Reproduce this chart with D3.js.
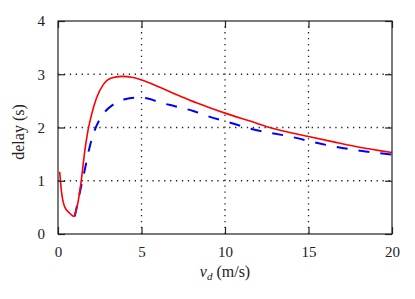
<!DOCTYPE html>
<html>
<head>
<meta charset="utf-8">
<script src="https://cdn.jsdelivr.net/npm/d3@7"></script>
<style>
  html, body { margin: 0; padding: 0; background: #fff; }
  svg { display: block; }
  text { font-family: "Liberation Serif", "DejaVu Serif", serif; fill: #222; }
</style>
</head>
<body>
<svg id="chart" width="415" height="299"></svg>
<script>
// speed (m/s) and delay (s)
const redSpeed = [0.1, 0.2, 0.4, 0.7, 0.95, 1.05, 1.2, 1.4, 1.6, 1.8, 2.0, 2.3, 2.7, 3.2, 3.8, 4.5, 5.3, 6.2, 7.0, 7.9, 9.0, 10, 11.5, 12.9, 15, 16.5, 17.9, 20];
const redDelay = [1.17, 0.82, 0.51, 0.39, 0.33, 0.40, 0.60, 1.02, 1.55, 1.95, 2.23, 2.55, 2.80, 2.93, 2.96, 2.94, 2.86, 2.74, 2.63, 2.51, 2.38, 2.27, 2.12, 1.98, 1.83, 1.73, 1.64, 1.53];

const blueSpeed = [1.0, 1.3, 1.6, 1.9, 2.2, 2.7, 3.3, 4.0, 4.8, 5.3, 6.1, 7.0, 8.1, 9.1, 10.1, 11.5, 13.9, 16.1, 18.9, 20];
const blueDelay = [0.33, 0.77, 1.20, 1.64, 1.95, 2.25, 2.43, 2.53, 2.56, 2.55, 2.47, 2.40, 2.31, 2.20, 2.11, 1.98, 1.83, 1.67, 1.53, 1.49];

const xTicks = [0, 5, 10, 15, 20];
const yTicks = [0, 1, 2, 3, 4];

const margin = { left: 58, right: 23, top: 21, bottom: 65 };
const width = 415, height = 299;

const svg = d3.select('#chart');

const x = d3.scaleLinear()
    .domain([0, 20])
    .range([margin.left, width - margin.right]);

const y = d3.scaleLinear()
    .domain([0, 4])
    .range([height - margin.bottom, margin.top]);

const plot = svg.append('g');

// dotted grid
plot.selectAll('.gx')
    .data(xTicks.slice(1, -1))
    .join('line')
    .attr('x1', d => x(d)).attr('x2', d => x(d))
    .attr('y1', y(0)).attr('y2', y(4))
    .style('stroke', '#222')
    .style('stroke-width', 1.3)
    .style('stroke-dasharray', '1.3,4.6')

plot.selectAll('.gy')
    .data(yTicks.slice(1, -1))
    .join('line')
    .attr('x1', x(0)).attr('x2', x(20))
    .attr('y1', d => y(d)).attr('y2', d => y(d))
    .style('stroke', '#222')
    .style('stroke-width', 1.3)
    .style('stroke-dasharray', '1.3,4.6')

// curves
const line = d3.line()
    .x(d => x(d[0]))
    .y(d => y(d[1]))
    .curve(d3.curveMonotoneX);

plot.append('path')
    .attr('d', line(d3.zip(blueSpeed, blueDelay)))
    .style('fill', 'none')
    .style('stroke', '#0000ff')
    .style('stroke-width', 2)
    .style('stroke-dasharray', '11,11')

plot.append('path')
    .attr('d', line(d3.zip(redSpeed, redDelay)))
    .style('fill', 'none')
    .style('stroke', '#ff0000')
    .style('stroke-width', 1.6)

// frame with inward ticks on all sides
const tickLen = 7;
const fmt = d3.format('d');
const axisStyle = g => g.call(a => a.select('.domain').remove())
    .call(a => a.selectAll('.tick line').style('stroke', '#222').style('stroke-width', 1.2));

svg.append('g')
    .attr('transform', `translate(0,${y(0)})`)
    .call(d3.axisBottom(x).tickValues(xTicks).tickFormat(fmt).tickSizeInner(-tickLen).tickSizeOuter(0).tickPadding(tickLen + 5))
    .call(axisStyle)
    .selectAll('text')
    .style('font-size', '15px')
    .style('font-family', '"Liberation Serif", serif')
    .style('fill', '#222')

svg.append('g')
    .attr('transform', `translate(0,${y(4)})`)
    .call(d3.axisTop(x).tickValues(xTicks).tickSizeInner(-tickLen).tickSizeOuter(0).tickFormat(''))
    .call(axisStyle)

svg.append('g')
    .attr('transform', `translate(${x(0)},0)`)
    .call(d3.axisLeft(y).tickValues(yTicks).tickFormat(fmt).tickSizeInner(-tickLen).tickSizeOuter(0).tickPadding(tickLen + 6))
    .call(axisStyle)
    .selectAll('text')
    .style('font-size', '15px')
    .style('font-family', '"Liberation Serif", serif')
    .style('fill', '#222')

svg.append('g')
    .attr('transform', `translate(${x(20)},0)`)
    .call(d3.axisRight(y).tickValues(yTicks).tickSizeInner(-tickLen).tickSizeOuter(0).tickFormat(''))
    .call(axisStyle)

svg.append('rect')
    .attr('x', x(0))
    .attr('y', y(4))
    .attr('width', x(20) - x(0))
    .attr('height', y(0) - y(4))
    .style('fill', 'none')
    .style('stroke', '#222')
    .style('stroke-width', 1.2)

// axis titles
const xt = svg.append('text')
    .attr('x', (x(0) + x(20)) / 2)
    .attr('y', 277)
    .attr('text-anchor', 'middle')
    .style('font-size', '16px')
xt.append('tspan').text('v').style('font-style', 'italic')
xt.append('tspan').text('d').style('font-style', 'italic').style('font-size', '11px').attr('dy', 3)
xt.append('tspan').text(' (m/s)').attr('dy', -3)

svg.append('text')
    .attr('transform', `translate(24,132) rotate(-90)`)
    .attr('text-anchor', 'middle')
    .style('font-size', '16px')
    .text('delay (s)')
</script>
</body>
</html>
